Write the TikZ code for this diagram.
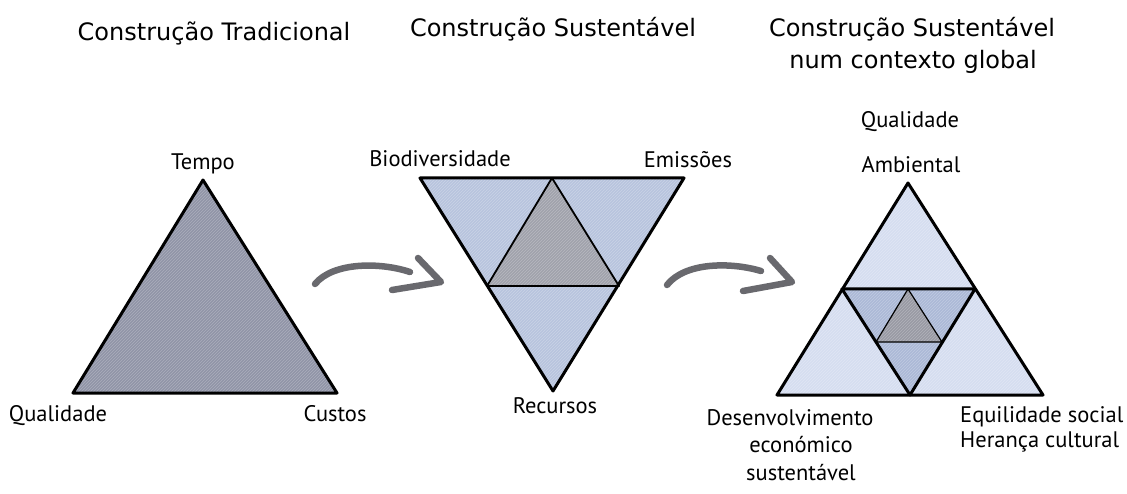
\documentclass[tikz,border=0pt]{standalone}
\usepackage{fontspec}
\setmainfont{DejaVu Sans}
\newfontfamily\titlefont{DejaVu Sans}
\newfontfamily\handfont{PT Sans}
\usetikzlibrary{patterns}
\definecolor{tonefill}{RGB}{144,148,167}
\definecolor{blueA}{RGB}{184,196,222}
\definecolor{grayA}{RGB}{160,162,172}
\definecolor{blueL}{RGB}{214,222,240}
\definecolor{blueM}{RGB}{172,185,215}
\definecolor{grayC}{RGB}{152,154,164}
\definecolor{arrowgray}{RGB}{105,105,110}
\tikzset{
  titletext/.style={font=\titlefont\fontsize{24}{32}\selectfont, inner sep=0pt, anchor=base},
  handtext/.style={font=\handfont\fontsize{22.5}{28}\selectfont, inner sep=0pt, anchor=base},
  outeredge/.style={draw=black, line width=3pt, line join=round},
  inneredge/.style={draw=black, line width=1.8pt, line join=round},
  thinedge/.style={draw=black, line width=1.2pt, line join=round},
  sketch/.style={pattern=north east lines, pattern color=white, opacity=0.25},
  bigarrow/.style={draw=arrowgray, line width=6.5pt, line cap=round, line join=round},
}
\begin{document}
\begin{tikzpicture}[x=1pt, y=-1pt]
\useasboundingbox (0,0) rectangle (1127,494);

% titles
\node[titletext] (title1) at (214,41) {Construção Tradicional};
\node[titletext] (title2) at (553,37) {Construção Sustentável};
\node[titletext] (title3a) at (912,37) {Construção Sustentável};
\node[titletext] (title3b) at (913,69) {num contexto global};

% ---------- triangle 1 ----------
\coordinate (t1top) at (203,180);
\coordinate (t1left) at (73,393);
\coordinate (t1right) at (337,393);
\fill[tonefill] (t1top) -- (t1left) -- (t1right) -- cycle;
\fill[sketch] (t1top) -- (t1left) -- (t1right) -- cycle;
\draw[outeredge] (t1top) -- (t1left) -- (t1right) -- cycle;
\node[handtext] (tempo) at (203,170) {Tempo};
\node[handtext] (qual1) at (58,421) {Qualidade};
\node[handtext] (custos) at (335,421) {Custos};

% ---------- triangle 2 ----------
\coordinate (t2a) at (420,178);
\coordinate (t2b) at (684,178);
\coordinate (t2c) at (553,391);
\coordinate (t2ab) at (552,178);
\coordinate (t2ac) at (487,286);
\coordinate (t2bc) at (619,286);
\fill[blueA] (t2a) -- (t2b) -- (t2c) -- cycle;
\fill[grayA] (t2ab) -- (t2ac) -- (t2bc) -- cycle;
\fill[sketch] (t2a) -- (t2b) -- (t2c) -- cycle;
\draw[inneredge] (t2ab) -- (t2ac) -- (t2bc) -- cycle;
\draw[outeredge] (t2a) -- (t2b) -- (t2c) -- cycle;
\node[handtext] (bio) at (440,167) {Biodiversidade};
\node[handtext] (emis) at (688,168) {Emissões};
\node[handtext] (recur) at (555,413) {Recursos};

% ---------- triangle 3 ----------
\coordinate (t3p) at (908,183);
\coordinate (t3q) at (777,395);
\coordinate (t3r) at (1043,395);
\coordinate (t3pq) at (842,289);
\coordinate (t3pr) at (975,289);
\coordinate (t3qr) at (910,395);
\coordinate (t3m1) at (908,289);
\coordinate (t3m2) at (876,342);
\coordinate (t3m3) at (942,342);
\fill[blueL] (t3p) -- (t3q) -- (t3r) -- cycle;
\fill[blueM] (t3pq) -- (t3pr) -- (t3qr) -- cycle;
\fill[grayC] (t3m1) -- (t3m2) -- (t3m3) -- cycle;
\fill[sketch] (t3p) -- (t3q) -- (t3r) -- cycle;
\draw[thinedge] (t3m1) -- (t3m2) -- (t3m3) -- cycle;
\draw[outeredge] (t3pq) -- (t3pr) -- (t3qr) -- cycle;
\draw[outeredge] (t3p) -- (t3q) -- (t3r) -- cycle;
\node[handtext] (qual3) at (910,128) {Qualidade};
\node[handtext] (amb) at (911,173) {Ambiental};
\node[handtext] (desen1) at (790,425) {Desenvolvimento};
\node[handtext] (desen2) at (801,452) {económico};
\node[handtext] (desen3) at (801,480) {sustentável};
\node[handtext, anchor=base west] (equi1) at (960,422) {Equilidade social};
\node[handtext, anchor=base west] (equi2) at (960,447) {Herança cultural};

% ---------- arrows ----------
\coordinate (a1s) at (315,284);
\coordinate (a1e) at (410,272);
\coordinate (a1u) at (418,258);
\coordinate (a1t) at (441,282);
\coordinate (a1l) at (392,290);
\draw[bigarrow] (a1s) .. controls (333,262) and (380,262) .. (a1e);
\draw[bigarrow] (a1u) -- (a1t) -- (a1l);

\coordinate (a2s) at (667,285);
\coordinate (a2e) at (761,271);
\coordinate (a2u) at (770,258);
\coordinate (a2t) at (792,282);
\coordinate (a2l) at (743,291);
\draw[bigarrow] (a2s) .. controls (685,262) and (731,262) .. (a2e);
\draw[bigarrow] (a2u) -- (a2t) -- (a2l);
\end{tikzpicture}
\end{document}
